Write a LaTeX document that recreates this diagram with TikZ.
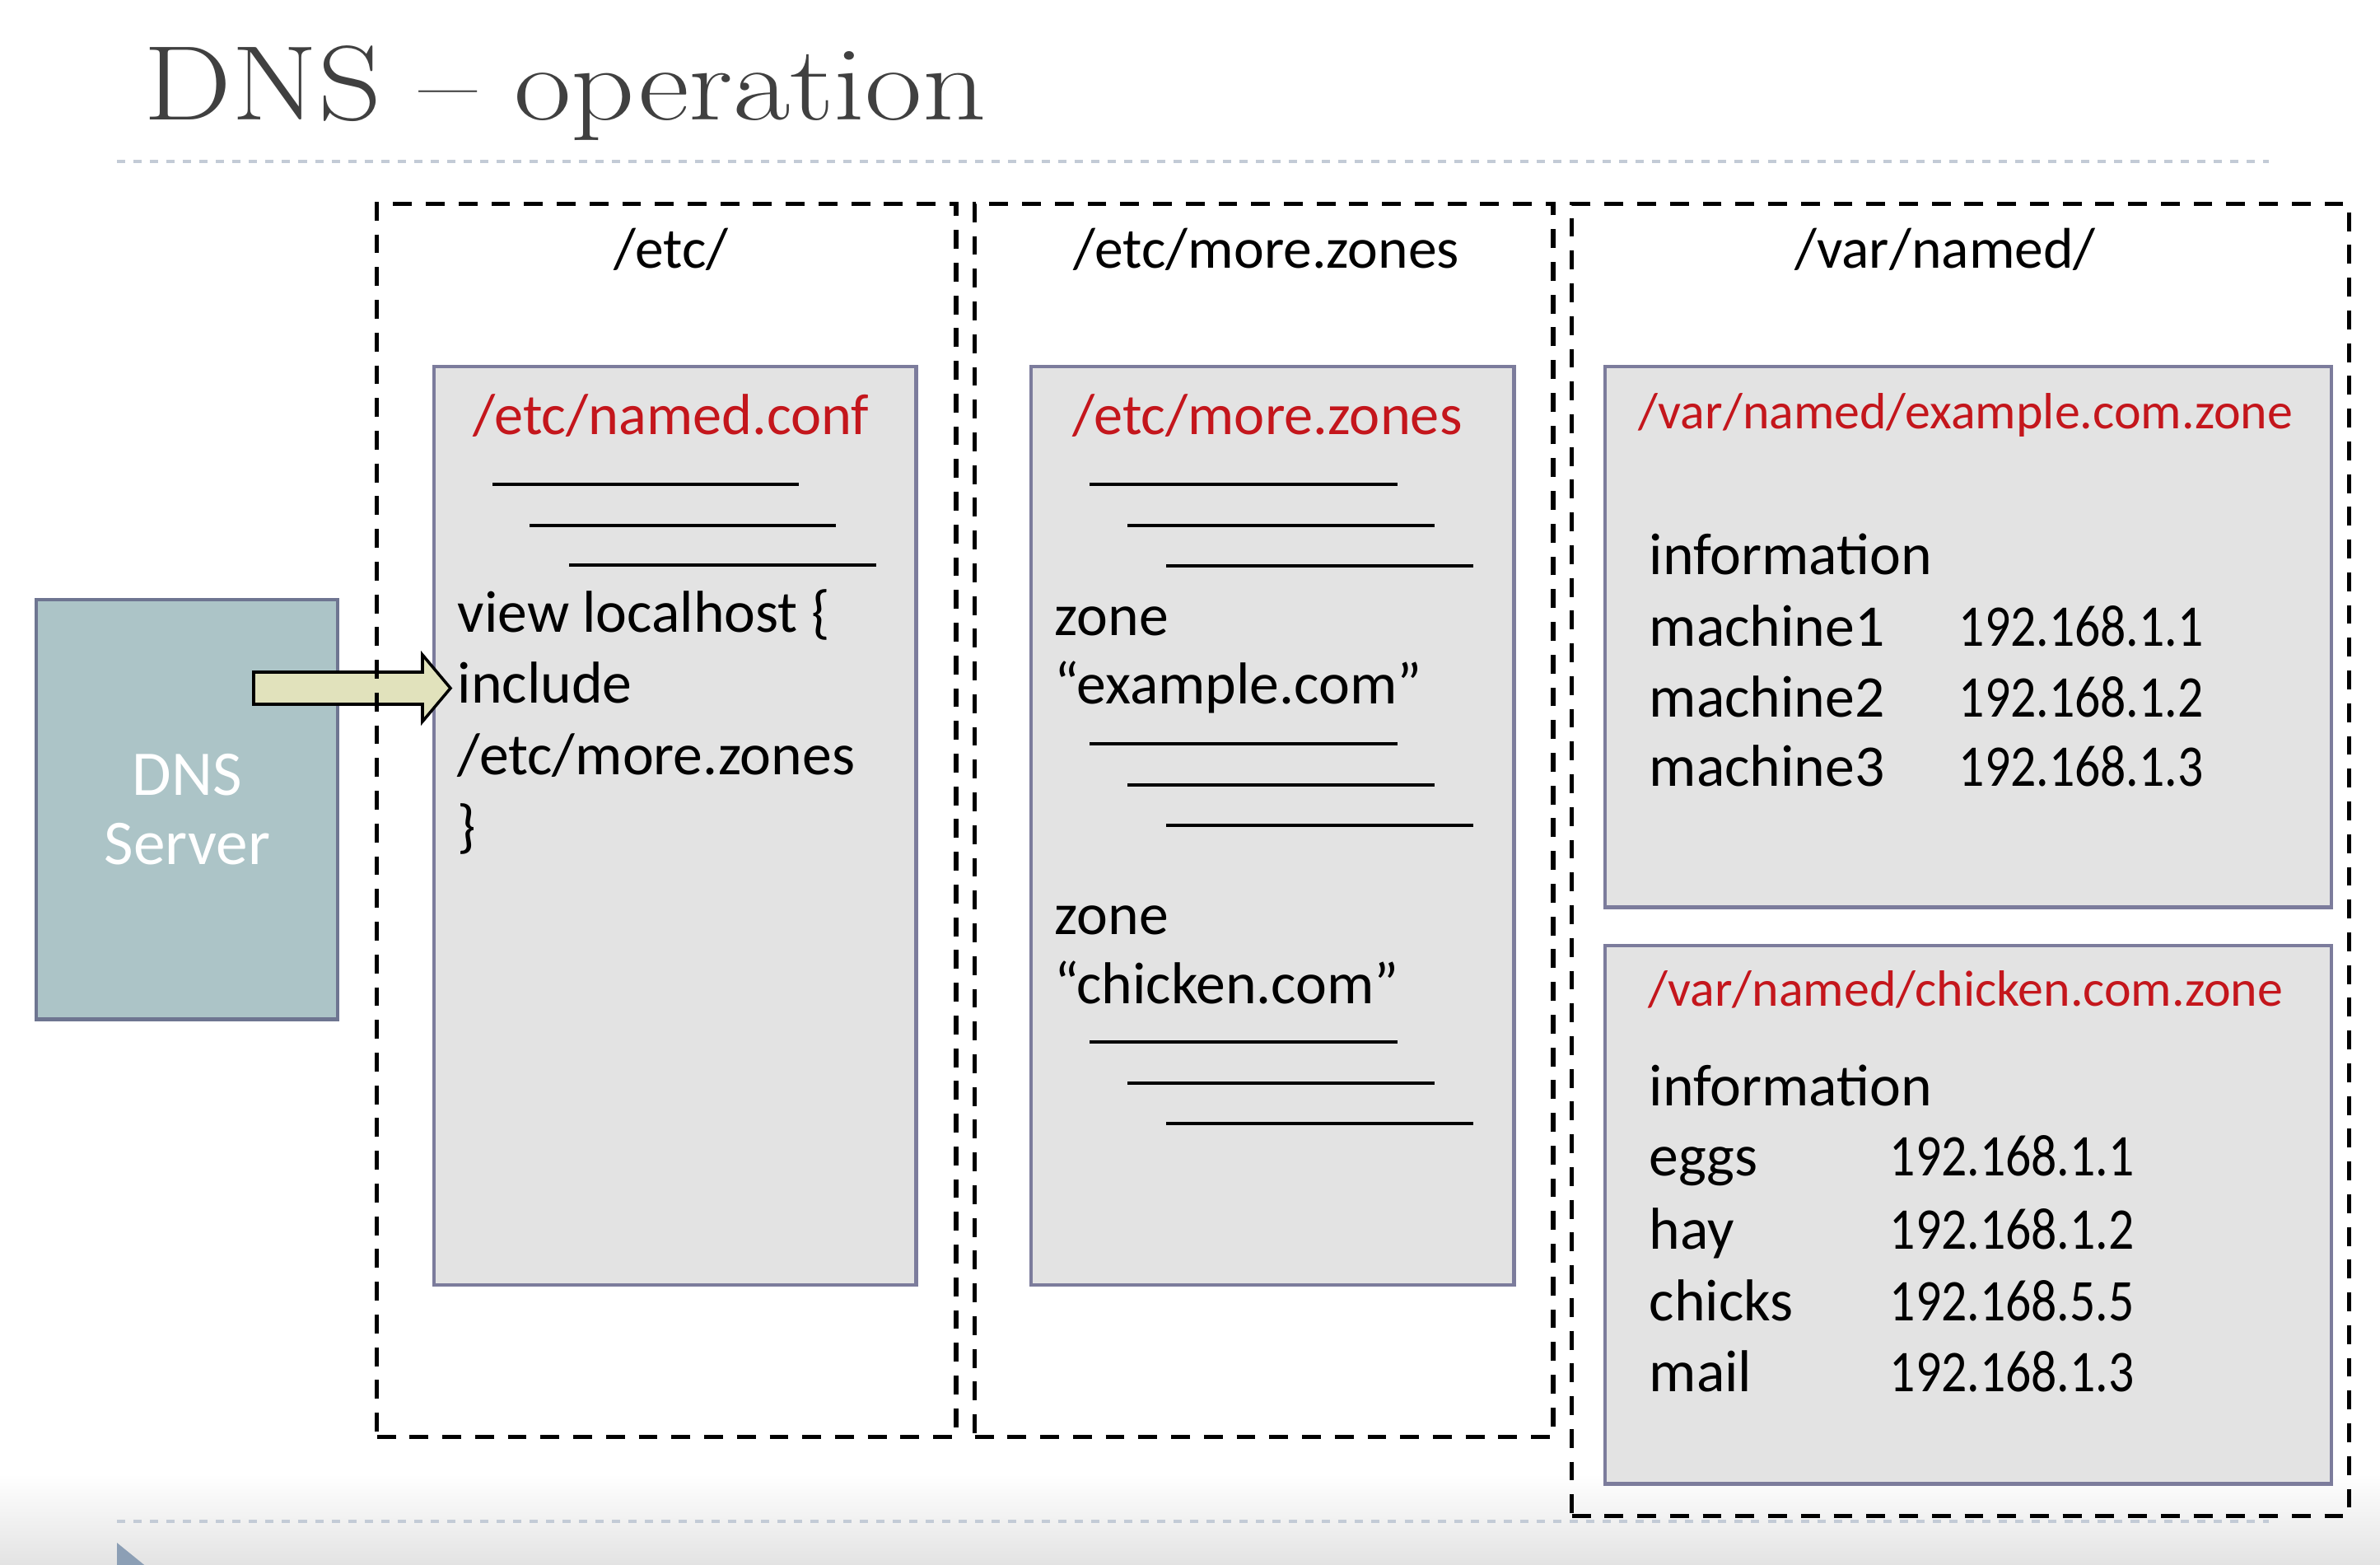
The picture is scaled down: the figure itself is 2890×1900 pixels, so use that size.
\documentclass[tikz,border=0pt]{standalone}
\usepackage{fontspec}
\newfontfamily\gillfont{Carlito}
\usetikzlibrary{calc,positioning}

\definecolor{titlegray}{HTML}{404040}
\definecolor{confred}{RGB}{196,22,28}
\definecolor{filegray}{HTML}{E3E3E3}
\definecolor{fileedge}{HTML}{7C7C9C}
\definecolor{serverteal}{HTML}{ACC4C7}
\definecolor{serveredge}{HTML}{6E7591}
\definecolor{arrowfill}{HTML}{E1E2BC}
\definecolor{sepline}{HTML}{C3CBD6}
\definecolor{bulletblue}{HTML}{8C9FB5}

\newcommand{\ipaddr}[1]{\scalebox{0.86}[1]{#1}}

\tikzset{
  dirbox/.style={draw=black, line width=1.5pt, dash pattern=on 6.5pt off 4.8pt, anchor=north west, inner sep=0pt},
  filebox/.style={draw=fileedge, fill=filegray, line width=1.2pt, anchor=north west, inner sep=0pt},
  txt/.style={font=\gillfont\fontsize{20.4}{24}\selectfont, inner sep=0pt, anchor=base west},
  dirlabel/.style={txt, anchor=base, font=\gillfont\fontsize{19.8}{24}\selectfont},
  redtitle/.style={txt, anchor=base, text=confred, font=\gillfont\fontsize{20}{24}\selectfont},
  zonetitle/.style={redtitle, font=\gillfont\fontsize{17.6}{21}\selectfont},
  rule/.style={line width=1.4pt},
  sepdots/.style={draw=sepline, line width=1.1pt, dash pattern=on 2.85pt off 2.85pt},
  blockarrow/.style={draw=black, fill=arrowfill, line width=1pt, line join=miter}
}

\begin{document}
\begin{tikzpicture}[x=0.01cm, y=-0.01cm]
	\path[use as bounding box] (0,0) rectangle (2890,1900);
	\clip (0,0) rectangle (2890,1900);
	% slide background
	\shade[top color=white, bottom color=black!11] (0,1790) rectangle (2890,1900);
	\fill[bulletblue] (142,1873) -- (195,1916) -- (142,1960) -- cycle;

	% title
	\node[anchor=base west, inner sep=0pt, text=titlegray, font=\fontsize{36.6}{40}\selectfont] (title) at (174,146) {\scalebox{1.175}[1]{DNS – operation}};
	\draw[sepdots] (142,196) -- (2755,196);
	\draw[sepdots] (142,1847) -- (2755,1847);

	% server
	\node[draw=serveredge, fill=serverteal, line width=1.2pt, minimum width=3.66cm, minimum height=5.09cm, anchor=north west, text=white, align=center, font=\gillfont\fontsize{22}{23.9}\selectfont] (dns) at (42,726) {DNS\\Server};

	% files
	\node[filebox, minimum width=5.85cm, minimum height=11.14cm] (namedconf) at (525,443) {};
	\node[filebox, minimum width=5.86cm, minimum height=11.14cm] (morezones) at (1250,443) {};
	\node[filebox, minimum width=8.81cm, minimum height=6.56cm] (examplezone) at (1947,443) {};
	\node[filebox, minimum width=8.81cm, minimum height=6.53cm] (chickenzone) at (1947,1146) {};

	% arrow into named.conf
	\path (308,835.5) coordinate (tail);
	\path (547,835.5) coordinate (tip);
	\draw[blockarrow] ($(tail)+(0,-19.5)$) -- ($(tip)+(-34,-19.5)$) -- ($(tip)+(-34,-40.5)$) -- (tip)
		-- ($(tip)+(-34,40.5)$) -- ($(tip)+(-34,19.5)$) -- ($(tail)+(0,19.5)$) -- cycle;

	% directories
	\node[dirbox, minimum width=7.03cm, minimum height=14.96cm] (etcdir) at (455,245) {};
	\node[dirbox, minimum width=7.02cm, minimum height=14.96cm] (zonesdir) at (1181,245) {};
	\node[dirbox, minimum width=9.43cm, minimum height=15.92cm] (vardir) at (1906,245) {};

	\node[dirlabel] (etclabel) at (815,326) {/etc/};
	\node[dirlabel] (zoneslabel) at (1538,326) {/etc/more.zones};
	\node[dirlabel] (varlabel) at (2362,326) {/var/named/};

	% file names
	\node[redtitle] (conftitle) at (815,527) {/etc/named.conf};
	\node[redtitle] (zonestitle) at (1539,527) {/etc/more.zones};
	\node[zonetitle] (extitle) at (2387,520) {/var/named/example.com.zone};
	\node[zonetitle] (chtitle) at (2387,1221) {/var/named/chicken.com.zone};

	% named.conf
	\draw[rule] (598,588) -- (970,588) (643,638) -- (1015,638) (691,686) -- (1064,686);
	\node[txt] (view) at (555,767) {view localhost \{};
	\node[txt] (incl) at (555,853) {include};
	\node[txt] (inclpath) at (555,940) {/etc/more.zones};
	\node[txt] (close) at (555,1027) {\}};

	% more.zones
	\foreach \y in {588,903,1265}
		\draw[rule] (1323,\y) -- (1697,\y) (1369,\y+50) -- (1742,\y+50) (1416,\y+99) -- (1789,\y+99);
	\node[txt] (zone1) at (1280,771) {zone};
	\node[txt] (dom1) at (1280,854) {“example.com”};
	\node[txt] (zone2) at (1280,1134) {zone};
	\node[txt] (dom2) at (1280,1218) {“chicken.com”};

	% example.com.zone
	\node[txt] (exinfo) at (2002,697) {information};
	\node[txt] (exhost1) at (2002,784) {machine1};
	\node[txt] (exip1) at (2378,784) {\ipaddr{192.168.1.1}};
	\node[txt] (exhost2) at (2002,870) {machine2};
	\node[txt] (exip2) at (2378,870) {\ipaddr{192.168.1.2}};
	\node[txt] (exhost3) at (2002,954) {machine3};
	\node[txt] (exip3) at (2378,954) {\ipaddr{192.168.1.3}};

	% chicken.com.zone
	\node[txt] (chinfo) at (2002,1342) {information};
	\node[txt] (chhost1) at (2002,1427) {eggs};
	\node[txt] (chip1) at (2294,1427) {\ipaddr{192.168.1.1}};
	\node[txt] (chhost2) at (2002,1516) {hay};
	\node[txt] (chip2) at (2294,1516) {\ipaddr{192.168.1.2}};
	\node[txt] (chhost3) at (2002,1603) {chicks};
	\node[txt] (chip3) at (2294,1603) {\ipaddr{192.168.5.5}};
	\node[txt] (chhost4) at (2002,1689) {mail};
	\node[txt] (chip4) at (2294,1689) {\ipaddr{192.168.1.3}};
\end{tikzpicture}
\end{document}
